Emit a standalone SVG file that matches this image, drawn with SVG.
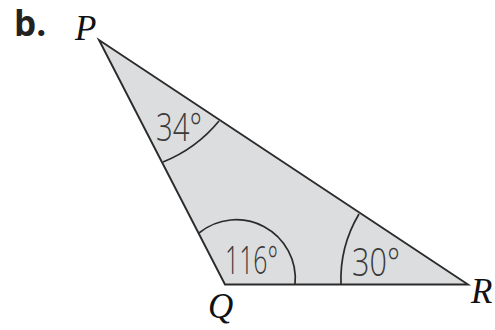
<svg xmlns="http://www.w3.org/2000/svg" width="495" height="330" viewBox="0 0 495 330">
<style>
.edge{fill:#dcddde;stroke:#2b2b2b;stroke-width:1.9;stroke-linejoin:miter}
.arc{fill:none;stroke:#2b2b2b;stroke-width:1.7}
.vl{font-family:"Liberation Serif",serif;font-style:italic;font-size:35px;fill:#111}
.ang{font-family:"Open Sans","Liberation Sans",sans-serif;font-weight:300;font-size:38px;fill:#3a3a3a}
.hd{font-family:"Open Sans","Liberation Sans",sans-serif;font-weight:700;font-size:35px;fill:#222}
</style>
<rect width="495" height="330" fill="#fff"/>
<g id="triangle">
<polygon class="edge" points="99,40 225,284.5 468,284.5"/>
</g>
<g id="connectors">
<path class="arc" d="M163,162 A140,140 0 0 0 219,121"/>
<path class="arc" d="M199,233 A59,59 0 0 1 295,284.5"/>
<path class="arc" d="M341,284.5 A128,128 0 0 1 359,214"/>
</g>
<g id="labels">
<text class="hd" x="14" y="36">b.</text>
<text class="vl" x="75" y="40">P</text>
<text class="vl" x="208" y="318">Q</text>
<text class="vl" x="471" y="303">R</text>
</g>
<g id="angles">
<text class="ang" x="156" y="141" textLength="46" lengthAdjust="spacingAndGlyphs">34°</text>
<text class="ang" x="225" y="274" textLength="53" lengthAdjust="spacingAndGlyphs">116°</text>
<text class="ang" x="352" y="276" textLength="48" lengthAdjust="spacingAndGlyphs">30°</text>
</g>
</svg>
